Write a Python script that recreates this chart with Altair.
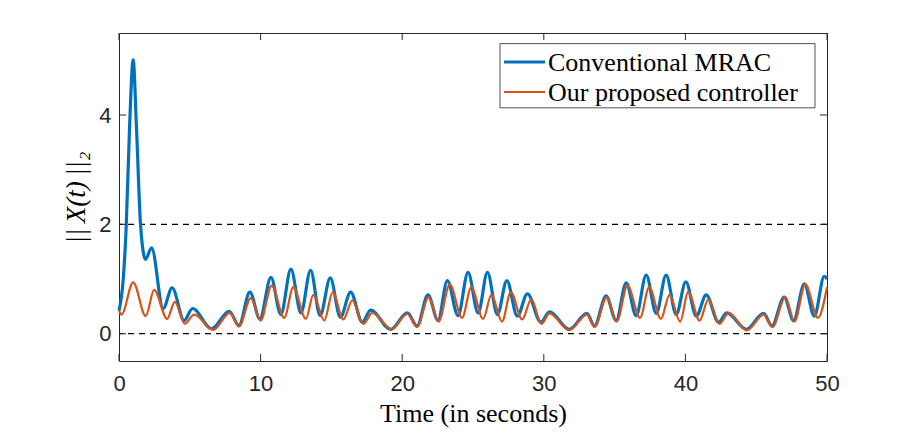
import altair as alt
import pandas as pd

# ---- data ----
blue_t = [0, 0.3, 0.5, 0.75, 1.0, 1.23, 1.52, 1.87, 2.3, 3.12,
          3.75, 4.6, 5.19, 6.54, 7.78, 8.47, 9.24, 9.95, 10.73, 11.43,
          12.14, 12.85, 13.53, 14.2, 14.92, 15.63, 16.36, 17.18, 17.77, 19.19,
          20.36, 21.05, 21.82, 22.53, 23.19, 23.94, 24.65, 25.36, 26.02, 26.72,
          27.39, 28.13, 28.84, 29.79, 30.4, 31.79, 33.04, 33.58, 34.4, 35.11,
          35.82, 36.52, 37.23, 37.94, 38.64, 39.35, 40.03, 40.77, 41.47, 42.34,
          42.93, 44.3, 45.52, 46.11, 46.98, 47.64, 48.4, 49.1, 49.81, 50]
blue_y = [0.42, 1.0, 1.9, 3.8, 5.01, 3.8, 2.0, 1.36, 1.57, 0.46,
          0.84, 0.24, 0.46, 0.09, 0.41, 0.15, 0.76, 0.27, 1.03, 0.35,
          1.18, 0.38, 1.16, 0.33, 1.02, 0.30, 0.76, 0.21, 0.43, 0.08,
          0.38, 0.14, 0.71, 0.24, 0.97, 0.33, 1.12, 0.38, 1.12, 0.35,
          0.97, 0.32, 0.73, 0.21, 0.40, 0.08, 0.37, 0.14, 0.69, 0.24,
          0.93, 0.33, 1.07, 0.37, 1.07, 0.35, 0.95, 0.32, 0.71, 0.21,
          0.38, 0.08, 0.37, 0.14, 0.67, 0.24, 0.91, 0.32, 1.05, 1.0]

red_t = [0, 0.18, 1.0, 1.89, 2.48, 3.4, 3.94, 4.65, 5.31, 6.65,
         7.83, 8.47, 9.31, 10.0, 10.78, 11.67, 12.31, 13.2, 13.72, 14.5,
         15.09, 15.84, 16.48, 17.25, 17.89, 19.26, 20.36, 21.05, 21.87, 22.57,
         23.36, 24.23, 24.88, 25.71, 26.3, 27.05, 27.67, 28.47, 29.12, 29.83,
         30.4, 31.8, 33.04, 33.58, 34.45, 35.15, 35.91, 36.8, 37.44, 38.27,
         38.88, 39.63, 40.2, 41.0, 41.63, 42.4, 43.05, 44.35, 45.52, 46.15,
         47.05, 47.7, 48.47, 49.36, 50]
red_y = [0.42, 0.35, 0.94, 0.32, 0.80, 0.27, 0.58, 0.18, 0.35, 0.07,
         0.38, 0.13, 0.65, 0.24, 0.88, 0.29, 0.85, 0.27, 0.71, 0.24,
         0.76, 0.26, 0.61, 0.18, 0.38, 0.08, 0.36, 0.12, 0.67, 0.22,
         0.90, 0.29, 0.85, 0.27, 0.71, 0.22, 0.76, 0.26, 0.63, 0.18,
         0.37, 0.06, 0.35, 0.12, 0.67, 0.22, 0.88, 0.29, 0.85, 0.27,
         0.71, 0.22, 0.77, 0.24, 0.63, 0.18, 0.38, 0.06, 0.35, 0.12,
         0.67, 0.22, 0.90, 0.29, 0.85]

series_names = ["Conventional MRAC", "Our proposed controller"]
series_colors = ["#0072BD", "#D95319"]
series_widths = [3.2, 2.2]

x_ticks = [0, 10, 20, 30, 40, 50]
y_ticks = [0, 2, 4]
ref_levels = [0, 2]

# ---- layout / style ----
W, H = 708, 328
TICK = 7
FRAME = "#262626"
SERIF = "Liberation Serif"
SANS = "Liberation Sans"

xscale = alt.Scale(domain=[0, 50], nice=False, zero=False)
yscale = alt.Scale(domain=[-0.5, 5.5], nice=False, zero=False)

x_axis = alt.Axis(values=x_ticks, title="Time (in seconds)", grid=False, ticks=False,
                  domain=False, labelFont=SANS, labelFontSize=22, labelColor=FRAME,
                  labelPadding=12, labelFlush=False, titleFont=SERIF, titleFontSize=26,
                  titleFontWeight="normal", titleColor="#000000", titlePadding=6)
y_axis = alt.Axis(values=y_ticks, title="||\u2009X(t)\u2009||\u2082", grid=False, ticks=False,
                  domain=False, labelFont=SANS, labelFontSize=22, labelColor=FRAME,
                  labelPadding=8, labelFlush=False, titleFont=SERIF, titleFontSize=27,
                  titleFontStyle="italic", titleAlign="center", titleAnchor="middle",
                  titleFontWeight="normal", titleColor="#000000", titlePadding=8)

ref_df = pd.DataFrame({"y": ref_levels})
ref = alt.Chart(ref_df).mark_rule(color="#000000", strokeDash=[6, 5], strokeWidth=1.2).encode(
    y=alt.Y("y:Q", scale=yscale, axis=y_axis)
)

lines = []
for name, tt, yy, col, w in [
    (series_names[0], blue_t, blue_y, series_colors[0], series_widths[0]),
    (series_names[1], red_t, red_y, series_colors[1], series_widths[1]),
]:
    df = pd.DataFrame({"t": tt, "v": yy, "series": name})
    lines.append(
        alt.Chart(df).mark_line(color=col, strokeWidth=w, interpolate="monotone").encode(
            x=alt.X("t:Q", scale=xscale, axis=x_axis),
            y=alt.Y("v:Q", scale=yscale, axis=y_axis),
        )
    )

xt_df = pd.DataFrame({"v": x_ticks})
yt_df = pd.DataFrame({"v": y_ticks})
tick_layers = [
    alt.Chart(xt_df).mark_rule(color=FRAME, strokeWidth=1).encode(
        x=alt.X("v:Q", scale=xscale, axis=x_axis), y=alt.value(H), y2=alt.value(H - TICK)),
    alt.Chart(xt_df).mark_rule(color=FRAME, strokeWidth=1).encode(
        x=alt.X("v:Q", scale=xscale, axis=x_axis), y=alt.value(0), y2=alt.value(TICK)),
    alt.Chart(yt_df).mark_rule(color=FRAME, strokeWidth=1).encode(
        y=alt.Y("v:Q", scale=yscale, axis=y_axis), x=alt.value(0), x2=alt.value(TICK)),
    alt.Chart(yt_df).mark_rule(color=FRAME, strokeWidth=1).encode(
        y=alt.Y("v:Q", scale=yscale, axis=y_axis), x=alt.value(W), x2=alt.value(W - TICK)),
]

# ---- legend (drawn box) ----
LX0, LX1, LY0, LY1 = 381, 696, 10.6, 74.8
one = pd.DataFrame({"k": [0]})
legend_layers = [
    alt.Chart(one).mark_rect(fill="white", stroke=FRAME, strokeWidth=0.8).encode(
        x=alt.value(LX0), x2=alt.value(LX1), y=alt.value(LY0), y2=alt.value(LY1))
]
for i, (name, col, w) in enumerate(zip(series_names, series_colors, series_widths)):
    yc = 29 + 30 * i
    legend_layers.append(
        alt.Chart(one).mark_rule(color=col, strokeWidth=w).encode(
            x=alt.value(385), x2=alt.value(426), y=alt.value(yc)))
    legend_layers.append(
        alt.Chart(one).mark_text(text=name, font=SERIF, fontSize=26, align="left",
                                 baseline="middle", color="#000000").encode(
            x=alt.value(429), y=alt.value(yc + 1)))

chart = alt.layer(ref, *lines, *tick_layers, *legend_layers).properties(
    width=W, height=H,
    autosize=alt.AutoSizeParams(type="none"),
    padding={"left": 111, "top": 25, "right": 70, "bottom": 68},
    background="white",
).configure_view(stroke=FRAME, strokeWidth=1)

chart.save("out.html", embed_options={"renderer": "svg", "actions": False})
